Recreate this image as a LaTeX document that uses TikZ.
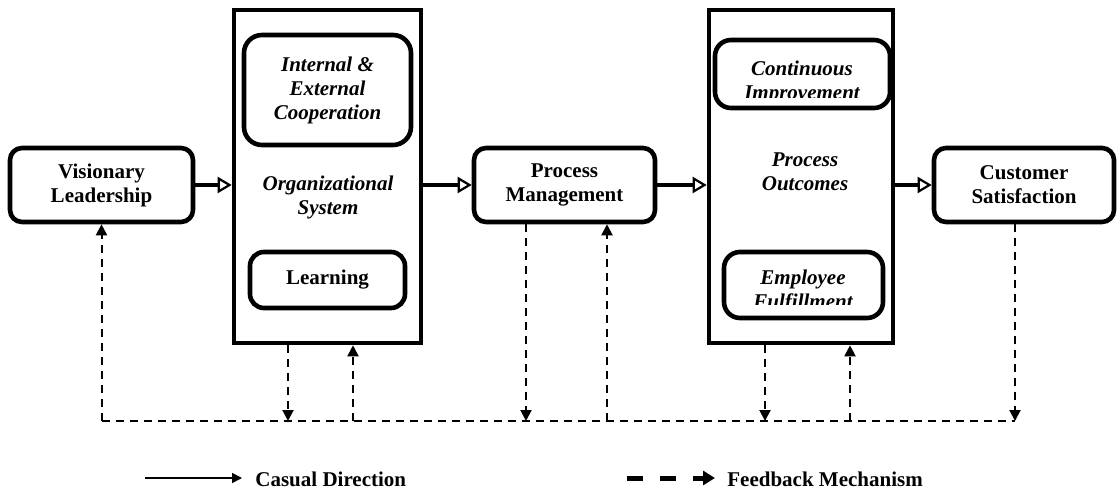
\documentclass[tikz,border=0pt]{standalone}
\usepackage{fontspec}
\setmainfont{Liberation Serif}
\usetikzlibrary{arrows.meta}

\begin{document}
\begin{tikzpicture}[x=0.5pt, y=-0.5pt,
    block/.style={draw, line width=2.3pt, rounded corners=6pt, align=center, inner sep=0pt,
        font=\fontsize{10.5}{12}\selectfont\bfseries},
    frame/.style={draw, line width=2.3pt, inner sep=0pt},
    midtext/.style={align=center, inner sep=0pt, font=\fontsize{10.5}{12}\selectfont\bfseries\itshape},
    legendtext/.style={anchor=west, inner sep=0pt, font=\fontsize{10.5}{12}\selectfont\bfseries},
    causal/.style={line width=2.2pt, -{Triangle[open, length=7pt, width=8pt, line width=1.1pt]}},
    feedback/.style={line width=1pt, dash pattern=on 4pt off 3pt, -{Triangle[length=5.5pt, width=5.5pt]}},
    fbline/.style={line width=1pt, dash pattern=on 4pt off 3pt}]

    \useasboundingbox (0,0) rectangle (1118,491);

    % boxes
    \node[block, minimum width=91.5pt, minimum height=37pt] (lead) at (101.5,185) {Visionary\\Leadership};

    \node[frame, minimum width=93.5pt, minimum height=166.5pt] (org) at (327.5,176.5) {};
    \node[block, rounded corners=9pt, font=\fontsize{10.5}{12}\selectfont\bfseries\itshape,
        minimum width=83.5pt, minimum height=55pt] (coop) at (327.5,90) {Internal \&\\External\\Cooperation};
    \node[midtext] (orgname) at (328,197) {Organizational\\System};
    \node[block, rounded corners=7pt, minimum width=77.5pt, minimum height=28pt] (learn) at (327.5,280) {Learning};

    \node[block, minimum width=90.5pt, minimum height=37pt] (pm) at (564.5,185) {Process\\Management};

    \node[frame, minimum width=92pt, minimum height=166.5pt] (po) at (801,176.5) {};
    \node[block, rounded corners=8pt, minimum width=87.5pt, minimum height=34pt] (ci) at (802.5,74) {};
    \begin{scope}
        \clip (ci.north west) rectangle ([yshift=6.5pt]ci.south east);
        \node[midtext] (citext) at (802,82) {Continuous\\Improvement};
    \end{scope}
    \node[midtext] (poname) at (805,171.5) {Process\\Outcomes};
    \node[block, rounded corners=8pt, minimum width=79.5pt, minimum height=33pt] (ef) at (803.5,285) {};
    \begin{scope}
        \clip (ef.north west) rectangle ([yshift=8pt]ef.south east);
        \node[midtext] (eftext) at (803,291) {Employee\\Fulfillment};
    \end{scope}

    \node[block, minimum width=90pt, minimum height=37pt] (cs) at (1024,185) {Customer\\Satisfaction};

    % causal flow
    \draw[causal] (lead.east) -- (lead.east -| org.west);
    \draw[causal] (org.east |- pm.west) -- (pm.west);
    \draw[causal] (pm.east) -- (pm.east -| po.west);
    \draw[causal] (po.east |- cs.west) -- (cs.west);

    % feedback loop
    \coordinate (base) at (0,421);
    \draw[fbline] (lead.south |- base) -- ([xshift=-4.5pt]cs.south |- base);
    \draw[feedback] (lead.south |- base) -- (lead.south);
    \draw[feedback] ([xshift=-19.75pt]org.south) -- ([xshift=-19.75pt]org.south |- base);
    \draw[feedback] ([xshift=12.75pt]org.south |- base) -- ([xshift=12.75pt]org.south);
    \draw[feedback] ([xshift=-19.25pt]pm.south) -- ([xshift=-19.25pt]pm.south |- base);
    \draw[feedback] ([xshift=21.25pt]pm.south |- base) -- ([xshift=21.25pt]pm.south);
    \draw[feedback] ([xshift=-18pt]po.south) -- ([xshift=-18pt]po.south |- base);
    \draw[feedback] ([xshift=24.5pt]po.south |- base) -- ([xshift=24.5pt]po.south);
    \draw[feedback] ([xshift=-4.5pt]cs.south) -- ([xshift=-4.5pt]cs.south |- base);

    % legend
    \coordinate (c0) at (145,478);
    \coordinate (c1) at (242,478);
    \draw[line width=0.8pt, -{Triangle[length=5pt, width=5pt]}] (c0) -- (c1);
    \node[legendtext] (causaltext) at (255,479) {Casual Direction};

    \coordinate (f0) at (627,478);
    \coordinate (f1) at (715,478);
    \draw[line width=2.5pt, dash pattern=on 8pt off 8.5pt, -{Triangle[length=6pt, width=7pt]}] (f0) -- (f1);
    \node[legendtext] (fbtext) at (727,479) {Feedback Mechanism};
\end{tikzpicture}
\end{document}
